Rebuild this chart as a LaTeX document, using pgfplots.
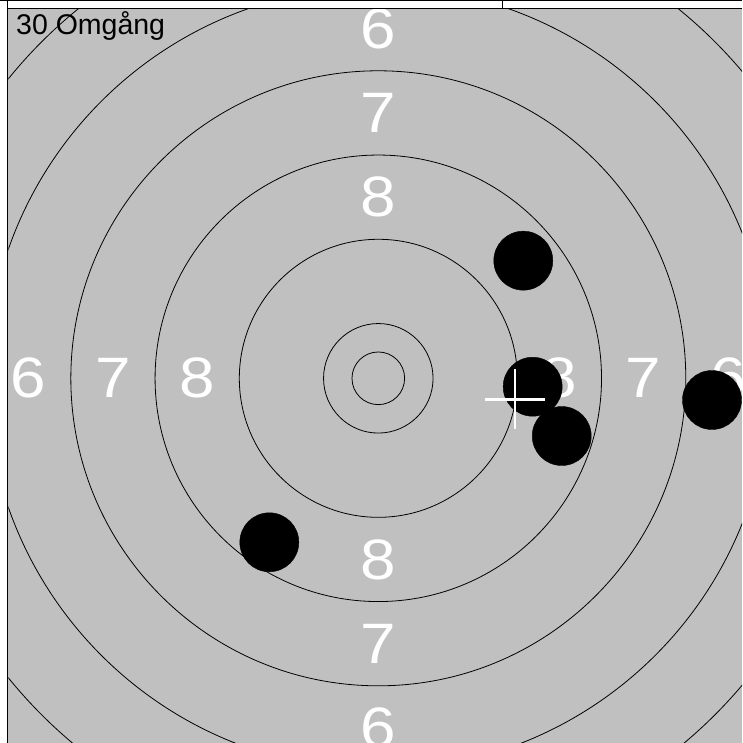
\documentclass[border=0pt]{standalone}
\usepackage{fontspec}
\setmainfont{Liberation Sans}
\usepackage{pgfplots}
\pgfplotsset{compat=1.18}
\definecolor{silver}{RGB}{192,192,192}
\begin{document}
\begin{tikzpicture}[x=1pt,y=1pt,
  num/.style={text=white, font=\fontsize{57}{60}\selectfont, inner sep=0pt, xscale=1.12}]
\useasboundingbox (0,0) rectangle (742,-743);
\begin{axis}[
  at={(8.5pt,-9.5pt)}, anchor=north west,
  width=733.5pt, height=733.5pt, scale only axis,
  xmin=-35.12, xmax=34.54, ymin=-34.63, ymax=35.02,
  axis line style={draw=none},
  xtick=\empty, ytick=\empty,
  axis background/.style={fill=silver},
  clip=true,
]
% target rings (mm)
\draw[black, line width=0.8pt] (axis cs:0,0) circle[radius=2.5];
\draw[black, line width=0.8pt] (axis cs:0,0) circle[radius=5.2];
\draw[black, line width=0.8pt] (axis cs:0,0) circle[radius=13.2];
\draw[black, line width=0.8pt] (axis cs:0,0) circle[radius=21.2];
\draw[black, line width=0.8pt] (axis cs:0,0) circle[radius=29.2];
\draw[black, line width=0.8pt] (axis cs:0,0) circle[radius=37.2];
\draw[black, line width=0.8pt] (axis cs:0,0) circle[radius=45.2];
% ring numbers
\node[num] at (axis cs:0,17.2) {8};
\node[num] at (axis cs:0,25.2) {7};
\node[num] at (axis cs:0,33.2) {6};
\node[num] at (axis cs:0,-17.2) {8};
\node[num] at (axis cs:0,-25.2) {7};
\node[num] at (axis cs:0,-33.2) {6};
\node[num] at (axis cs:-17.2,0) {8};
\node[num] at (axis cs:-25.2,0) {7};
\node[num] at (axis cs:-33.2,0) {6};
\node[num] at (axis cs:17.2,0) {8};
\node[num] at (axis cs:25.2,0) {7};
\node[num] at (axis cs:33.2,0) {6};
% shots
\addplot[only marks, mark=*, mark size=29.5pt, mark options={fill=black, draw=black, line width=0.4pt}]
  coordinates {(13.77,11.17) (14.66,-0.80) (17.42,-5.48) (31.69,-2.06) (-10.35,-15.57)};
% mean point of impact
\addplot[only marks, mark=+, mark size=30pt, mark options={draw=white, line width=2.6pt}]
  coordinates {(12.98,-1.99)};
\end{axis}
\draw[line width=1pt] (0,-0.5) -- (742,-0.5);
\draw[line width=1.5pt] (7.5,0) -- (7.5,-743);
\draw[line width=1.8pt] (7.5,-8.5) -- (742,-8.5);
\draw[line width=1pt] (502,0) -- (502,-8.5);
\node[anchor=base west, inner sep=0pt, font=\fontsize{28.5}{30}\selectfont] at (16,-35) {30 Omgång};
\end{tikzpicture}
\end{document}
